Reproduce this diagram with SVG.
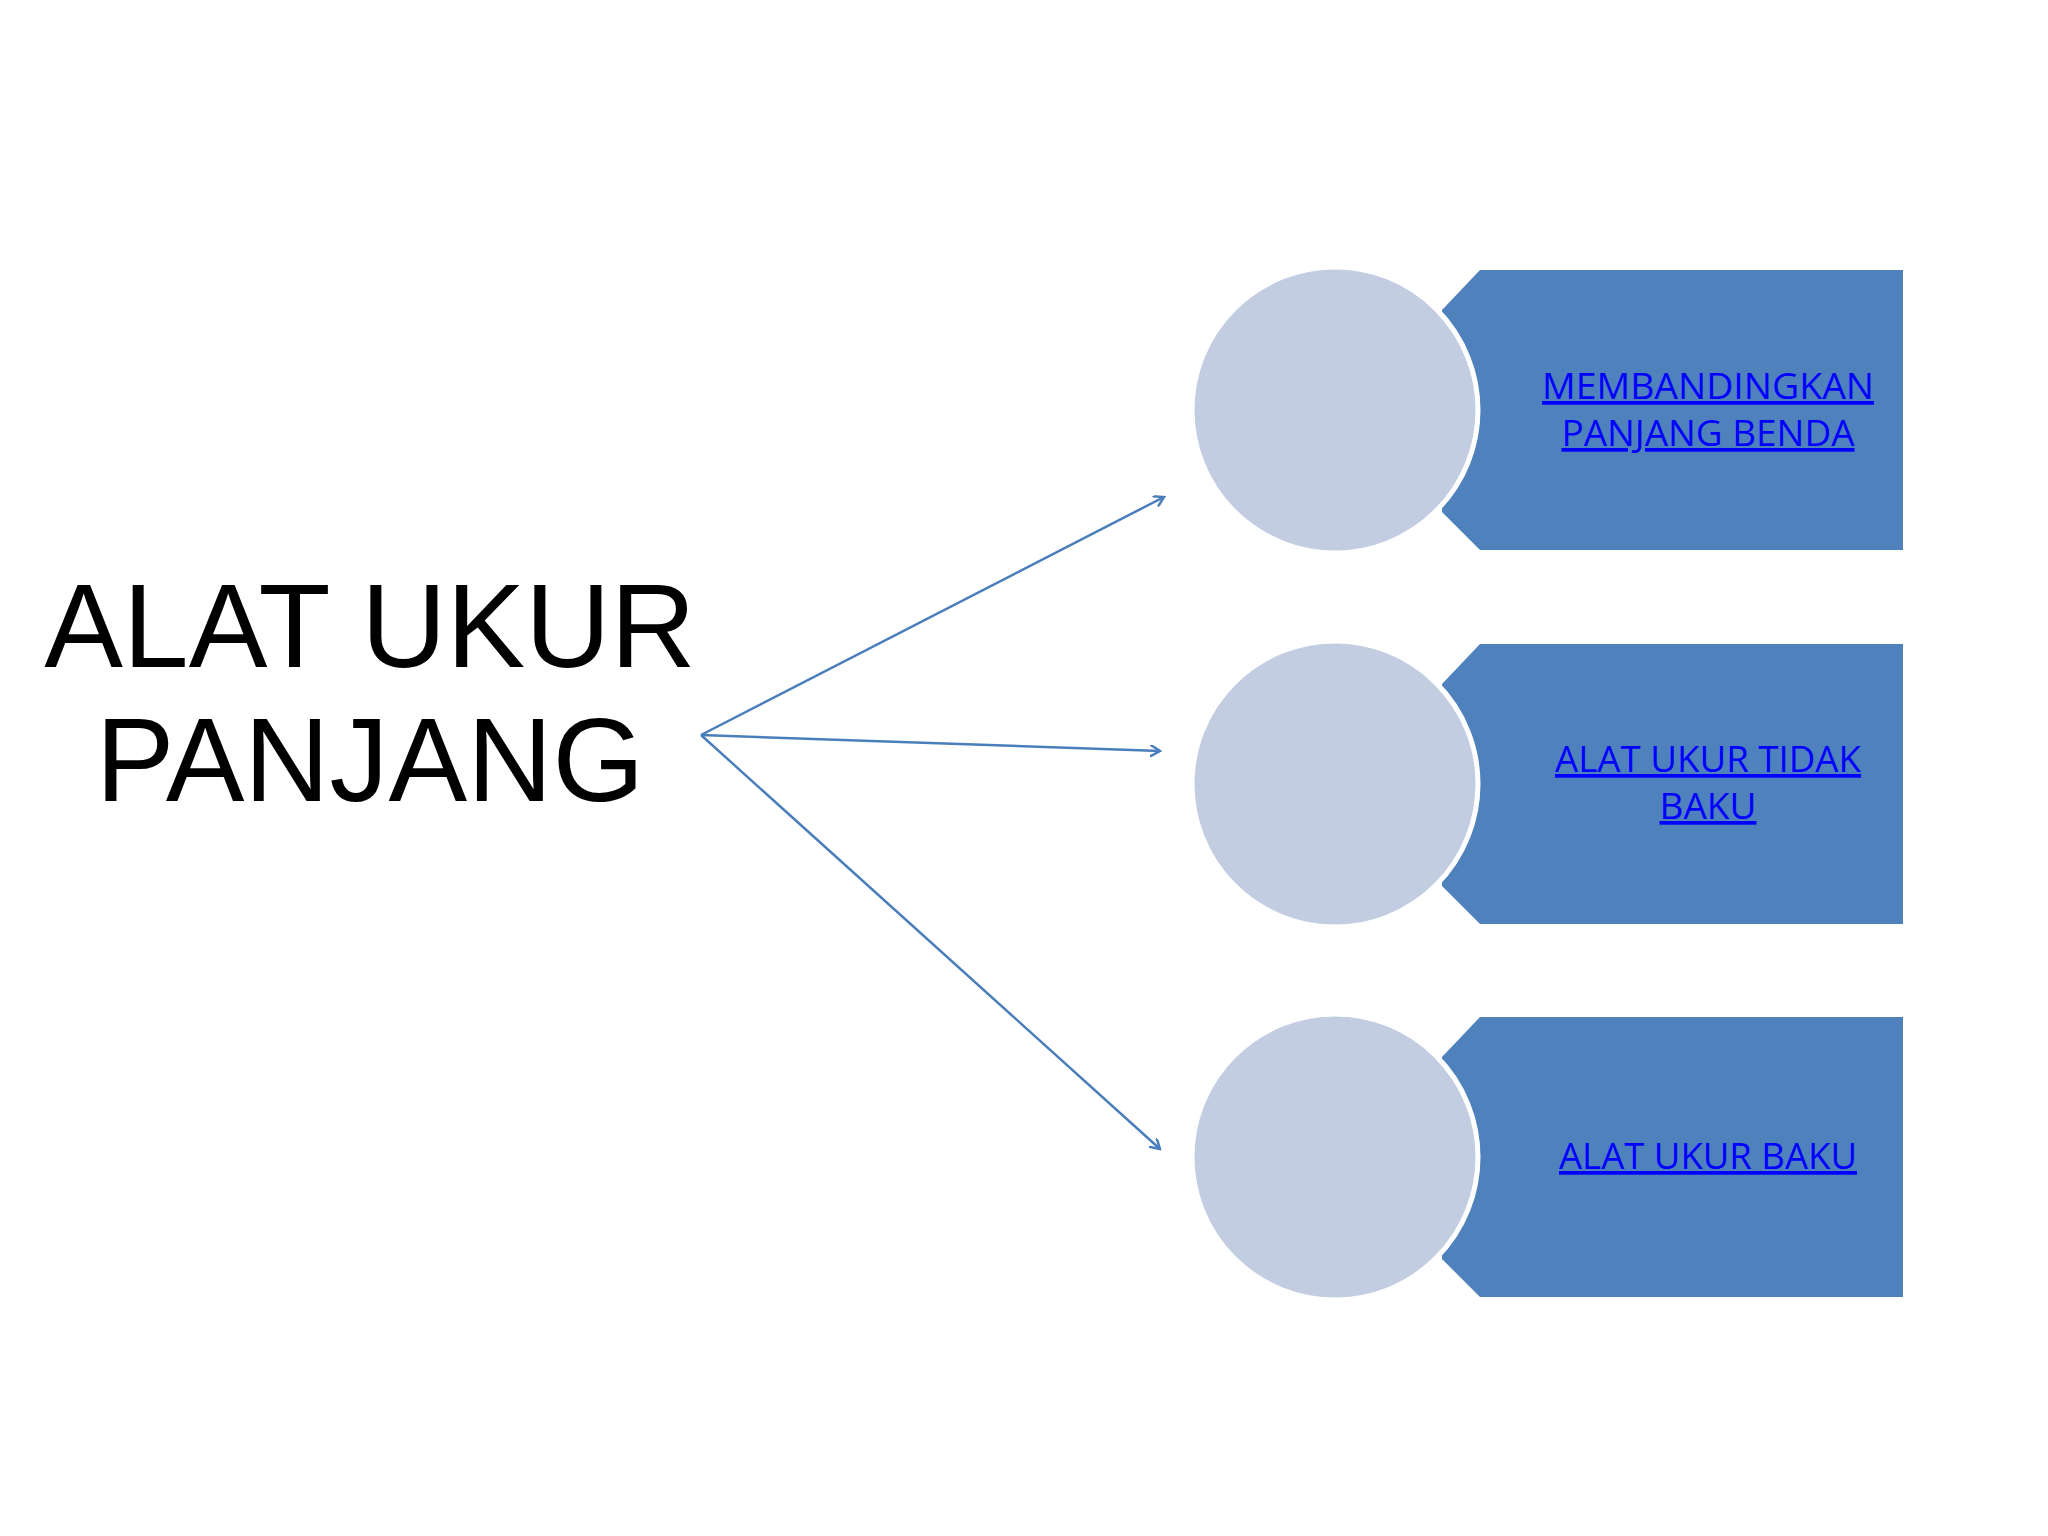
<svg xmlns="http://www.w3.org/2000/svg" width="2048" height="1536" viewBox="0 0 2048 1536">
<style>
.tab{fill:#4f81bd}
.circ{fill:#c3cde2;stroke:#fff;stroke-width:5}
.lbl{font-family:"Open Sans","Noto Sans",sans-serif;font-size:37px;fill:#0000ff;text-decoration:underline;text-anchor:middle}
.title{font-family:"Liberation Sans",Arial,sans-serif;font-size:118px;fill:#000;text-anchor:middle}
.conn{stroke:#4a7ebb;stroke-width:2.5;fill:none;marker-end:url(#a)}
</style>
<defs><marker id="a" markerWidth="12" markerHeight="12" refX="10" refY="6" orient="auto" markerUnits="userSpaceOnUse"><path d="M0,0 L10,6 L0,12" fill="none" stroke="#4a7ebb" stroke-width="2.5"/></marker></defs>
<rect width="2048" height="1536" fill="#fff"/>
<g id="title"><text class="title" x="370" y="667">ALAT UKUR</text><text class="title" x="370" y="801">PANJANG</text></g>
<g id="n1"><path class="tab" d="M1480,270 H1903 V550 H1480 L1442,512 V310 Z"/><circle class="circ" cx="1335" cy="410" r="143"/>
<text class="lbl" x="1708" y="399" textLength="332" lengthAdjust="spacingAndGlyphs">MEMBANDINGKAN</text><text class="lbl" x="1708" y="446" textLength="293" lengthAdjust="spacingAndGlyphs">PANJANG BENDA</text></g>
<g id="n2"><path class="tab" d="M1480,644 H1903 V924 H1480 L1442,886 V684 Z"/><circle class="circ" cx="1335" cy="784" r="143"/>
<text class="lbl" x="1708" y="772" textLength="306" lengthAdjust="spacingAndGlyphs">ALAT UKUR TIDAK</text><text class="lbl" x="1708" y="819">BAKU</text></g>
<g id="n3"><path class="tab" d="M1480,1017 H1903 V1297 H1480 L1442,1259 V1057 Z"/><circle class="circ" cx="1335" cy="1157" r="143"/>
<text class="lbl" x="1708" y="1169" textLength="298" lengthAdjust="spacingAndGlyphs">ALAT UKUR BAKU</text></g>
<g id="connectors">
<line class="conn" x1="701" y1="735" x2="1164" y2="497"/>
<line class="conn" x1="701" y1="735" x2="1160" y2="751"/>
<line class="conn" x1="701" y1="735" x2="1160" y2="1149"/>
</g>
</svg>
